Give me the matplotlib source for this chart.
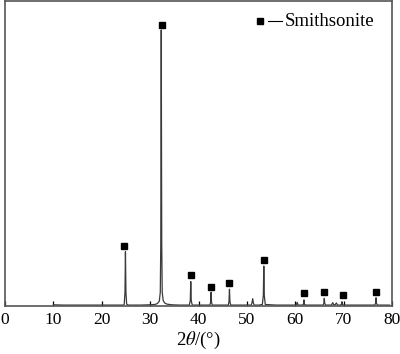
import matplotlib
matplotlib.use("Agg")
import matplotlib.pyplot as plt

plt.rcParams['font.family'] = ['Liberation Serif', 'DejaVu Serif']
plt.rcParams['mathtext.fontset'] = 'stix'

# XRD pattern points (2theta, intensity a.u.)
two_theta = [10.0, 12.0, 15.0, 18.0, 20.0, 22.0, 24.5,
             24.65, 24.8, 24.9, 25.0, 25.15, 25.5,
             28.0, 30.0, 31.0, 31.5, 31.9, 32.1, 32.2, 32.3, 32.4, 32.5, 32.7, 33.0, 33.5, 34.5,
             36.0, 38.1, 38.3, 38.4, 38.5, 38.7,
             40.0, 42.35, 42.5, 42.6, 42.7, 42.85,
             44.0, 46.15, 46.3, 46.4, 46.5, 46.65,
             48.0, 50.9, 51.05, 51.2, 51.35, 51.5,
             52.5, 53.2, 53.4, 53.5, 53.6, 53.8,
             56.0, 58.0, 60.2, 60.4, 60.6, 61.5, 61.7, 61.8, 61.9, 62.1,
             64.0, 65.75, 65.9, 66.0, 66.1, 66.3,
             67.5, 67.75, 67.95, 68.25, 68.5, 68.75,
             69.3, 69.55, 69.65, 69.75, 70.0,
             72.0, 74.0, 76.4, 76.6, 76.7, 76.8, 77.0,
             78.0, 79.5]
intensity = [4, 3, 3, 3, 3, 3, 3,
             6, 45, 178, 45, 6, 3,
             3, 4, 5, 8, 16, 45, 200, 905, 200, 45, 18, 10, 6, 4,
             3, 3, 18, 80, 18, 3,
             3, 3, 12, 45, 12, 3,
             3, 3, 14, 55, 14, 3,
             3, 3, 10, 24, 10, 3,
             3, 5, 35, 131, 35, 5,
             3, 3, 3, 12, 3, 3, 6, 20, 6, 3,
             3, 3, 8, 25, 8, 3,
             3, 11, 4, 4, 10, 3,
             3, 5, 14, 5, 3,
             3, 3, 3, 8, 27, 8, 3,
             3, 3]

# Smithsonite markers (2theta, intensity)
marker_theta = [24.7, 32.4, 38.4, 42.6, 46.4, 53.5, 61.8, 66.0, 69.8, 76.7]
marker_int = [198, 921, 102, 63, 74, 150, 44, 46, 36, 47]

xticks = [0, 10, 20, 30, 40, 50, 60, 70, 80]

fig = plt.figure(figsize=(4.0, 3.54), dpi=100)
ax = fig.add_axes([0.0125, 0.1356, 0.9675, 0.8614])

ax.plot(two_theta, intensity, color='#3a3a3a', lw=0.9)
ax.plot(marker_theta, marker_int, ls='none', marker='s', ms=5, color='black')

ax.set_xlim(0, 80)
ax.set_ylim(0, 1000)
ax.set_xticks(xticks)
ax.set_xticklabels([str(t) for t in xticks])
ax.set_yticks([])
ax.tick_params(axis='x', direction='in', length=3.6, width=0.9, pad=4,
               labelsize=12.5, colors='black')
for s in ax.spines.values():
    s.set_color('#555555')
    s.set_linewidth(1.2)

ax.set_xlabel(r'2$\theta$/(°)', fontsize=13.5, labelpad=2)

# legend drawn manually
ax.plot([0.659], [0.934], marker='s', ms=5, color='black', transform=ax.transAxes,
        clip_on=False)
ax.plot([0.680, 0.716], [0.936, 0.936], color='black', lw=0.8, transform=ax.transAxes)
ax.text(0.722, 0.934, 'Smithsonite', transform=ax.transAxes, fontsize=13.5,
        va='center', ha='left')

fig.savefig('out.png', dpi=100)
